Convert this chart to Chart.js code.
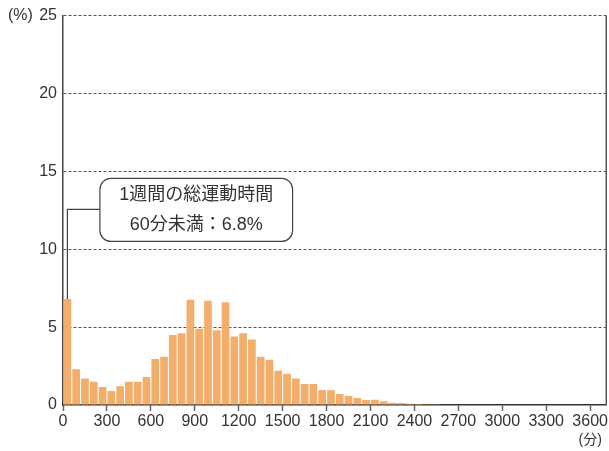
<!DOCTYPE html>
<html>
<head>
<meta charset="utf-8">
<script src="https://cdn.jsdelivr.net/npm/chart.js@4/dist/chart.umd.min.js"></script>
<style>
  body { margin: 0; background: #fff; }
  #wrap { width: 609px; height: 451px; position: relative; }
</style>
</head>
<body>
<div id="wrap"><canvas id="canvas"></canvas></div>
<script>
// bin start (minutes), 60-minute bins
const binStarts = [];
for (let m = 0; m < 3600; m += 60) binStarts.push(m);

// share of people (%) per bin
const shares = [
  6.8, 2.3, 1.7, 1.5, 1.15, 0.9, 1.2, 1.5, 1.5, 1.8,
  2.95, 3.1, 4.5, 4.6, 6.75, 4.9, 6.7, 4.8, 6.6, 4.4,
  4.6, 4.2, 3.1, 2.9, 2.2, 2.0, 1.7, 1.35, 1.35, 0.97,
  0.94, 0.7, 0.58, 0.45, 0.32, 0.33, 0.24, 0.15, 0.13, 0.08,
  0.06, 0.02, 0.01, 0, 0, 0, 0, 0, 0, 0,
  0, 0, 0, 0, 0, 0, 0, 0, 0, 0
];

const xTicks = [0, 300, 600, 900, 1200, 1500, 1800, 2100, 2400, 2700, 3000, 3300, 3600];
const yTicks = [0, 5, 10, 15, 20, 25];

const calloutLines = ['1週間の総運動時間', '60分未満：6.8%'];

const FONT = "'Liberation Sans', 'Noto Sans CJK JP', sans-serif";
const TEXT = '#333';
Chart.defaults.font.family = FONT;

const extras = {
  id: 'extras',
  afterDraw(chart) {
    const { ctx, chartArea: a, scales: { x, y } } = chart;
    ctx.save();
    // right frame line
    ctx.strokeStyle = '#555';
    ctx.lineWidth = 1.5;
    ctx.beginPath();
    ctx.moveTo(a.right, a.top);
    ctx.lineTo(a.right, a.bottom);
    ctx.stroke();

    // unit labels
    ctx.fillStyle = TEXT;
    ctx.font = '16px ' + FONT;
    ctx.textBaseline = 'middle';
    ctx.textAlign = 'left';
    ctx.fillText('(%)', 8, y.getPixelForValue(25));
    ctx.textAlign = 'center';
    ctx.font = '14px ' + FONT;
    ctx.fillText('(分)', x.getPixelForValue(3600), 440);

    // callout box
    const bx1 = x.getPixelForValue(252), bx2 = x.getPixelForValue(1568);
    const by1 = y.getPixelForValue(14.55), by2 = y.getPixelForValue(10.5);
    ctx.strokeStyle = '#444';
    ctx.lineWidth = 1.2;
    ctx.beginPath();
    ctx.roundRect(bx1, by1, bx2 - bx1, by2 - by1, 11);
    ctx.fillStyle = '#fff';
    ctx.fill();
    ctx.stroke();

    // connector to first bar
    const cy = y.getPixelForValue(12.56);
    const cx = x.getPixelForValue(binStarts[0] + 30);
    ctx.beginPath();
    ctx.moveTo(bx1, cy);
    ctx.lineTo(cx, cy);
    ctx.lineTo(cx, y.getPixelForValue(shares[0]));
    ctx.stroke();

    ctx.fillStyle = TEXT;
    ctx.font = '18px ' + FONT;
    ctx.textAlign = 'center';
    const mid = (bx1 + bx2) / 2;
    ctx.fillText(calloutLines[0], mid, by1 + 17);
    ctx.fillText(calloutLines[1], mid, by1 + 47);
    ctx.restore();
  }
};

const config = {
  type: 'bar',
  data: {
    datasets: [{
      data: binStarts.map((s, i) => ({ x: s + 30, y: shares[i] })),
      backgroundColor: '#F4AE6B',
      borderWidth: 0,
      barPercentage: 0.88,
      categoryPercentage: 1
    }]
  },
  options: {
    responsive: true,
    maintainAspectRatio: false,
    animation: false,
    layout: { padding: { top: 15, right: 2, left: 0, bottom: 0 } },
    plugins: { legend: { display: false }, tooltip: { enabled: false } },
    scales: {
      x: {
        type: 'linear',
        offset: false,
        min: 0,
        max: 3710,
        afterBuildTicks: (s) => { s.ticks = xTicks.map(v => ({ value: v })); },
        afterFit: (s) => { s.height = 46; },
        ticks: { color: TEXT, font: { size: 16 }, padding: 1, maxRotation: 0, autoSkip: false, callback: (v) => String(v) },
        grid: { offset: false, drawOnChartArea: false, drawTicks: true, tickLength: 6, tickColor: '#666', tickWidth: 1.5 },
        border: { color: '#333', width: 1.5 }
      },
      y: {
        min: 0,
        max: 25,
        afterBuildTicks: (s) => { s.ticks = yTicks.map(v => ({ value: v })); },
        afterFit: (s) => { s.width = 63; },
        ticks: { color: TEXT, font: { size: 16 }, padding: 6 },
        grid: { color: (c) => c.tick && c.tick.value === 0 ? 'rgba(0,0,0,0)' : '#555', lineWidth: 1, drawTicks: false },
        border: { color: '#444', width: 1.5, dash: [3, 2] }
      }
    }
  },
  plugins: [extras]
};

new Chart(document.getElementById('canvas').getContext('2d'), config);
</script>
</body>
</html>
